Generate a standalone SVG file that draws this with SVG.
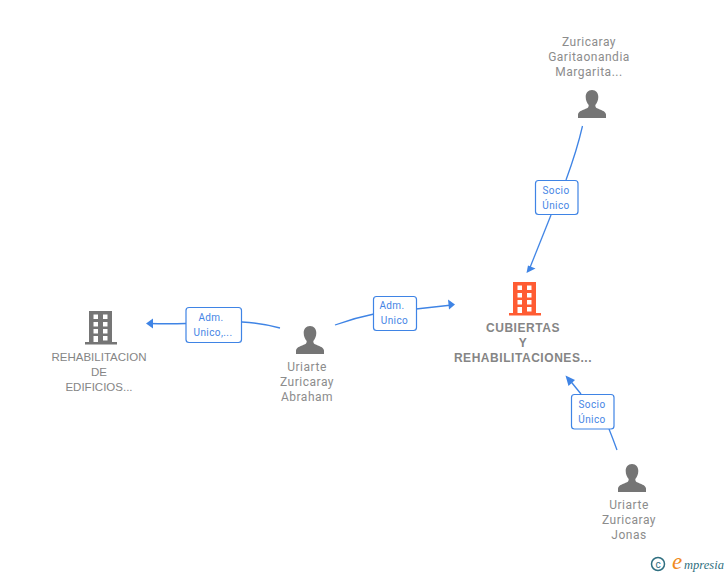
<svg xmlns="http://www.w3.org/2000/svg" width="728" height="575" viewBox="0 0 728 575">
<style>
text{font-family:"Roboto","Liberation Sans",Arial,sans-serif;text-anchor:middle}
.n{font-size:12px;fill:#8c8c8c;letter-spacing:.52px}
.b{font-size:12px;font-weight:700;fill:#858585;letter-spacing:.55px;font-family:"Liberation Sans",Arial,sans-serif}
.g{font-size:11.5px;fill:#858585;font-family:"Liberation Sans",Arial,sans-serif}
.l{font-size:10px;fill:#4585e5;letter-spacing:.4px}
.box{fill:#fff;stroke:#3f84e5;stroke-width:1.2}
.c{fill:none;stroke:#3f84e5;stroke-width:1.3}
.h{fill:#3f84e5}
</style>
<defs>
<symbol id="person" viewBox="0 0 28 28" overflow="visible">
<path d="M14 0c4 0 6.300 3 6.300 7 0 3.300-1.400 6.300-3 8 0 1.500.4 2.600 1.700 3.300 3.500 1.700 8.500 2.600 9 6.200V28H0v-3.500c.5-3.600 5.500-4.500 9-6.200 1.300-.7 1.700-1.800 1.700-3.300-1.600-1.700-3-4.700-3-8C7.700 3 10 0 14 0z" fill="#757575"/>
</symbol>
<symbol id="bld" viewBox="0 0 32 34" overflow="visible">
<path fill-rule="evenodd" d="M4 0H27V31H32V33.500H0V31H4ZM8.500 3.500V8H13V3.500ZM18 3.500V8H22.500V3.500ZM8.500 11V15.500H13V11ZM18 11V15.500H22.500V11ZM8.500 18V22.500H13V18ZM18 18V22.500H22.500V18ZM8.500 25V31H13V25ZM18 25V29.500H22.500V25Z"/>
</symbol>
</defs>
<g id="connectors">
<path class="c" d="M582.500 126Q577 150 566 180"/>
<path class="c" d="M551 215L529 270"/>
<path class="h" d="M526.500 273L535.500 268.500 528 265.500z"/>
<path class="c" d="M617 450Q613 439 609 429"/>
<path class="c" d="M581 394L568 378"/>
<path class="h" d="M565.500 375.500L568.500 386 575 380z"/>
<path class="c" d="M416 309L452 305"/>
<path class="h" d="M455 304.500L448 299.500 449 309.500z"/>
<path class="c" d="M335 325Q354 318 374 314"/>
<path class="c" d="M186 323.500Q168 324 149 323.500"/>
<path class="h" d="M146 323.500L153 318.500V328.500z"/>
<path class="c" d="M242 322Q262 323 280 328"/>
</g>
<g id="edge-socio-1"><rect class="box" x="535.500" y="180.500" width="42.500" height="34" rx="3"/><text class="l" x="556" y="194">Socio</text><text class="l" x="556" y="209">Único</text></g>
<g id="edge-socio-2"><rect class="box" x="571.500" y="394.500" width="42.500" height="34.500" rx="3"/><text class="l" x="592" y="408">Socio</text><text class="l" x="592" y="423">Único</text></g>
<g id="edge-adm-1"><rect class="box" x="373.500" y="296.500" width="43" height="34" rx="3"/><text class="l" x="392" y="309">Adm.</text><text class="l" x="394.500" y="324">Unico</text></g>
<g id="edge-adm-2"><rect class="box" x="186" y="307.500" width="55.500" height="35" rx="3"/><text class="l" x="211" y="321">Adm.</text><text class="l" x="213" y="336">Unico,...</text></g>
<g id="node-margarita"><use href="#person" x="578" y="90" width="28" height="28"/><text class="n" x="589" y="46">Zuricaray</text><text class="n" x="589" y="61">Garitaonandia</text><text class="n" x="589" y="76">Margarita...</text></g>
<g id="node-cubiertas" fill="#ff5c33"><use href="#bld" x="509" y="282" width="32" height="34"/><text class="b" x="523" y="332">CUBIERTAS</text><text class="b" x="523" y="347">Y</text><text class="b" x="523" y="362">REHABILITACIONES...</text></g>
<g id="node-rehabilitacion" fill="#757575"><use href="#bld" x="85" y="311" width="32" height="34"/><text class="g" x="99" y="361">REHABILITACION</text><text class="g" x="99" y="376">DE</text><text class="g" x="99" y="391">EDIFICIOS...</text></g>
<g id="node-abraham"><use href="#person" x="296" y="326" width="28" height="28"/><text class="n" x="307" y="371">Uriarte</text><text class="n" x="307" y="386">Zuricaray</text><text class="n" x="307" y="401">Abraham</text></g>
<g id="node-jonas"><use href="#person" x="618" y="464" width="28" height="28"/><text class="n" x="629" y="509">Uriarte</text><text class="n" x="629" y="524">Zuricaray</text><text class="n" x="629" y="539">Jonas</text></g>
<g id="logo"><circle cx="658" cy="564" r="6.500" fill="none" stroke="#2f6f80" stroke-width="1.500"/><text x="658" y="567.500" font-size="10" fill="#2f6f80">c</text><text x="677" y="569" font-size="23" fill="#f08a1d" style="font-family:'Liberation Serif',serif;font-style:italic">e</text><text x="704" y="569" font-size="12.5" fill="#2f6f80" style="font-family:'Liberation Serif',serif;font-style:italic">mpresia</text></g>
</svg>
